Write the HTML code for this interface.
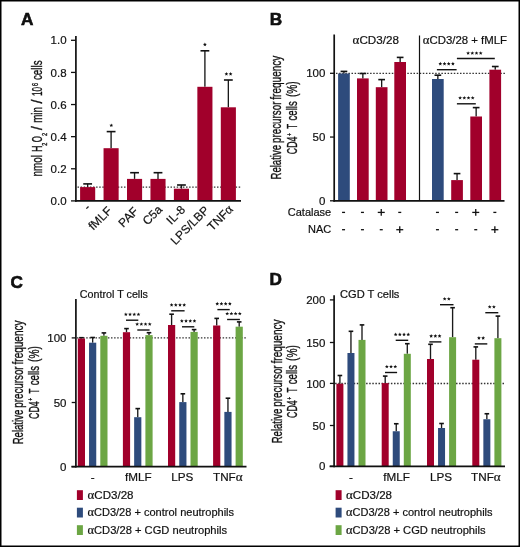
<!DOCTYPE html>
<html><head><meta charset="utf-8"><style>
html,body{margin:0;padding:0;background:#fff;overflow:hidden;}
svg{display:block;will-change:transform;}
text{fill:#111;}
</style></head><body>
<svg width="520" height="547" viewBox="0 0 520 547">
<rect width="520" height="547" fill="#fff"/>
<rect x="0.75" y="0.75" width="518.5" height="545.5" fill="none" stroke="#000" stroke-width="1.5"/>
<text x="20.90" y="24.70" font-size="17.2" text-anchor="start" font-weight="bold" font-family='"Liberation Sans", sans-serif' stroke="#000" stroke-width="0.55">A</text>
<line x1="77.50" y1="187.20" x2="241.00" y2="187.20" stroke="#333" stroke-width="1.3" stroke-dasharray="1.5 1.6"/>
<line x1="87.65" y1="187.10" x2="87.65" y2="183.90" stroke="#1a1a1a" stroke-width="1.35" />
<line x1="83.25" y1="183.90" x2="92.05" y2="183.90" stroke="#111" stroke-width="1.6" />
<rect x="80.10" y="187.10" width="15.10" height="13.80" fill="#a1002b"/>
<line x1="111.10" y1="148.20" x2="111.10" y2="131.60" stroke="#1a1a1a" stroke-width="1.35" />
<line x1="106.70" y1="131.60" x2="115.50" y2="131.60" stroke="#111" stroke-width="1.6" />
<rect x="103.55" y="148.20" width="15.10" height="52.70" fill="#a1002b"/>
<line x1="134.55" y1="178.90" x2="134.55" y2="172.70" stroke="#1a1a1a" stroke-width="1.35" />
<line x1="130.15" y1="172.70" x2="138.95" y2="172.70" stroke="#111" stroke-width="1.6" />
<rect x="127.00" y="178.90" width="15.10" height="22.00" fill="#a1002b"/>
<line x1="158.00" y1="178.90" x2="158.00" y2="172.70" stroke="#1a1a1a" stroke-width="1.35" />
<line x1="153.60" y1="172.70" x2="162.40" y2="172.70" stroke="#111" stroke-width="1.6" />
<rect x="150.45" y="178.90" width="15.10" height="22.00" fill="#a1002b"/>
<line x1="181.45" y1="188.70" x2="181.45" y2="185.00" stroke="#1a1a1a" stroke-width="1.35" />
<line x1="177.05" y1="185.00" x2="185.85" y2="185.00" stroke="#111" stroke-width="1.6" />
<rect x="173.90" y="188.70" width="15.10" height="12.20" fill="#a1002b"/>
<line x1="204.90" y1="86.80" x2="204.90" y2="50.80" stroke="#1a1a1a" stroke-width="1.35" />
<line x1="200.50" y1="50.80" x2="209.30" y2="50.80" stroke="#111" stroke-width="1.6" />
<rect x="197.35" y="86.80" width="15.10" height="114.10" fill="#a1002b"/>
<line x1="228.35" y1="107.30" x2="228.35" y2="80.00" stroke="#1a1a1a" stroke-width="1.35" />
<line x1="223.95" y1="80.00" x2="232.75" y2="80.00" stroke="#111" stroke-width="1.6" />
<rect x="220.80" y="107.30" width="15.10" height="93.60" fill="#a1002b"/>
<line x1="75.90" y1="36.00" x2="75.90" y2="201.75" stroke="#111" stroke-width="1.7" />
<line x1="75.05" y1="200.90" x2="241.00" y2="200.90" stroke="#111" stroke-width="1.7" />
<line x1="71.00" y1="200.90" x2="75.90" y2="200.90" stroke="#111" stroke-width="1.3" />
<text x="66.60" y="205.00" font-size="11.5" text-anchor="end" font-weight="normal" font-family='"Liberation Sans", sans-serif'  stroke="#111" stroke-width="0.2">0.0</text>
<line x1="71.00" y1="168.78" x2="75.90" y2="168.78" stroke="#111" stroke-width="1.3" />
<text x="66.60" y="172.88" font-size="11.5" text-anchor="end" font-weight="normal" font-family='"Liberation Sans", sans-serif'  stroke="#111" stroke-width="0.2">0.2</text>
<line x1="71.00" y1="136.66" x2="75.90" y2="136.66" stroke="#111" stroke-width="1.3" />
<text x="66.60" y="140.76" font-size="11.5" text-anchor="end" font-weight="normal" font-family='"Liberation Sans", sans-serif'  stroke="#111" stroke-width="0.2">0.4</text>
<line x1="71.00" y1="104.54" x2="75.90" y2="104.54" stroke="#111" stroke-width="1.3" />
<text x="66.60" y="108.64" font-size="11.5" text-anchor="end" font-weight="normal" font-family='"Liberation Sans", sans-serif'  stroke="#111" stroke-width="0.2">0.6</text>
<line x1="71.00" y1="72.42" x2="75.90" y2="72.42" stroke="#111" stroke-width="1.3" />
<text x="66.60" y="76.52" font-size="11.5" text-anchor="end" font-weight="normal" font-family='"Liberation Sans", sans-serif'  stroke="#111" stroke-width="0.2">0.8</text>
<line x1="71.00" y1="40.30" x2="75.90" y2="40.30" stroke="#111" stroke-width="1.3" />
<text x="66.60" y="44.40" font-size="11.5" text-anchor="end" font-weight="normal" font-family='"Liberation Sans", sans-serif'  stroke="#111" stroke-width="0.2">1.0</text>
<polygon points="111.30,123.40 111.83,124.67 113.20,124.78 112.16,125.68 112.48,127.02 111.30,126.30 110.12,127.02 110.44,125.68 109.40,124.78 110.77,124.67" fill="#111"/>
<polygon points="204.90,42.60 205.43,43.87 206.80,43.98 205.76,44.88 206.08,46.22 204.90,45.50 203.72,46.22 204.04,44.88 203.00,43.98 204.37,43.87" fill="#111"/>
<polygon points="226.40,72.00 226.93,73.27 228.30,73.38 227.26,74.28 227.58,75.62 226.40,74.90 225.22,75.62 225.54,74.28 224.50,73.38 225.87,73.27" fill="#111"/>
<polygon points="230.60,72.00 231.13,73.27 232.50,73.38 231.46,74.28 231.78,75.62 230.60,74.90 229.42,75.62 229.74,74.28 228.70,73.38 230.07,73.27" fill="#111"/>
<text transform="translate(42.20,176.43) rotate(-90)" stroke="#111" stroke-width="0.35" font-size="14" font-family='"Liberation Sans", sans-serif' textLength="21.40" lengthAdjust="spacingAndGlyphs">nmol</text>
<text transform="translate(42.20,151.67) rotate(-90)" stroke="#111" stroke-width="0.35" font-size="14" font-family='"Liberation Sans", sans-serif' textLength="6.14" lengthAdjust="spacingAndGlyphs">H</text>
<text transform="translate(47.00,145.77) rotate(-90)" stroke="#111" stroke-width="0.35" font-size="8" font-family='"Liberation Sans", sans-serif' textLength="3.04" lengthAdjust="spacingAndGlyphs">2</text>
<text transform="translate(42.20,142.34) rotate(-90)" stroke="#111" stroke-width="0.35" font-size="14" font-family='"Liberation Sans", sans-serif' textLength="6.17" lengthAdjust="spacingAndGlyphs">O</text>
<text transform="translate(47.00,136.08) rotate(-90)" stroke="#111" stroke-width="0.35" font-size="8" font-family='"Liberation Sans", sans-serif' textLength="3.16" lengthAdjust="spacingAndGlyphs">2</text>
<text transform="translate(42.20,129.90) rotate(-90)" stroke="#111" stroke-width="0.35" font-size="14" font-family='"Liberation Sans", sans-serif' textLength="3.69" lengthAdjust="spacingAndGlyphs">/</text>
<text transform="translate(42.20,122.83) rotate(-90)" stroke="#111" stroke-width="0.35" font-size="14" font-family='"Liberation Sans", sans-serif' textLength="15.83" lengthAdjust="spacingAndGlyphs">min</text>
<text transform="translate(42.20,103.50) rotate(-90)" stroke="#111" stroke-width="0.35" font-size="14" font-family='"Liberation Sans", sans-serif' textLength="4.09" lengthAdjust="spacingAndGlyphs">/</text>
<text transform="translate(42.20,95.99) rotate(-90)" stroke="#111" stroke-width="0.35" font-size="14" font-family='"Liberation Sans", sans-serif' textLength="9.17" lengthAdjust="spacingAndGlyphs">10</text>
<text transform="translate(37.60,86.07) rotate(-90)" stroke="#111" stroke-width="0.35" font-size="8.8" font-family='"Liberation Sans", sans-serif' textLength="2.99" lengthAdjust="spacingAndGlyphs">6</text>
<text transform="translate(42.20,80.05) rotate(-90)" stroke="#111" stroke-width="0.35" font-size="14" font-family='"Liberation Sans", sans-serif' textLength="19.61" lengthAdjust="spacingAndGlyphs">cells</text>
<text transform="translate(91.05,208.50) rotate(-45)" font-size="12" text-anchor="end" font-family='"Liberation Sans", sans-serif' stroke="#111" stroke-width="0.2">-</text>
<text transform="translate(112.60,211.50) rotate(-45)" font-size="12" text-anchor="end" font-family='"Liberation Sans", sans-serif' stroke="#111" stroke-width="0.2">fMLF</text>
<text transform="translate(139.05,212.00) rotate(-45)" font-size="12" text-anchor="end" font-family='"Liberation Sans", sans-serif' stroke="#111" stroke-width="0.2">PAF</text>
<text transform="translate(163.00,210.30) rotate(-45)" font-size="12" text-anchor="end" font-family='"Liberation Sans", sans-serif' stroke="#111" stroke-width="0.2">C5a</text>
<text transform="translate(185.95,210.50) rotate(-45)" font-size="12" text-anchor="end" font-family='"Liberation Sans", sans-serif' stroke="#111" stroke-width="0.2">IL-8</text>
<text transform="translate(209.90,211.00) rotate(-45)" font-size="12" text-anchor="end" font-family='"Liberation Sans", sans-serif' stroke="#111" stroke-width="0.2">LPS/LBP</text>
<text transform="translate(233.85,210.00) rotate(-45)" font-size="12" text-anchor="end" font-family='"Liberation Sans", sans-serif' stroke="#111" stroke-width="0.2">TNF<tspan font-family='"Liberation Serif", serif' font-size="1.12em">&#945;</tspan></text>
<text x="269.80" y="24.50" font-size="17.2" text-anchor="start" font-weight="bold" font-family='"Liberation Sans", sans-serif' stroke="#000" stroke-width="0.55">B</text>
<line x1="336.00" y1="73.40" x2="505.50" y2="73.40" stroke="#333" stroke-width="1.3" stroke-dasharray="1.5 1.6"/>
<line x1="343.95" y1="73.50" x2="343.95" y2="71.40" stroke="#1a1a1a" stroke-width="1.35" />
<line x1="340.60" y1="71.40" x2="347.30" y2="71.40" stroke="#111" stroke-width="1.6" />
<rect x="338.10" y="73.50" width="11.70" height="127.30" fill="#2e4b7c"/>
<line x1="362.85" y1="78.40" x2="362.85" y2="73.50" stroke="#1a1a1a" stroke-width="1.35" />
<line x1="359.50" y1="73.50" x2="366.20" y2="73.50" stroke="#111" stroke-width="1.6" />
<rect x="357.00" y="78.40" width="11.70" height="122.40" fill="#a1002b"/>
<line x1="381.65" y1="87.20" x2="381.65" y2="79.60" stroke="#1a1a1a" stroke-width="1.35" />
<line x1="378.30" y1="79.60" x2="385.00" y2="79.60" stroke="#111" stroke-width="1.6" />
<rect x="375.80" y="87.20" width="11.70" height="113.60" fill="#a1002b"/>
<line x1="400.15" y1="62.00" x2="400.15" y2="57.40" stroke="#1a1a1a" stroke-width="1.35" />
<line x1="396.80" y1="57.40" x2="403.50" y2="57.40" stroke="#111" stroke-width="1.6" />
<rect x="394.30" y="62.00" width="11.70" height="138.80" fill="#a1002b"/>
<line x1="437.85" y1="79.00" x2="437.85" y2="75.20" stroke="#1a1a1a" stroke-width="1.35" />
<line x1="434.50" y1="75.20" x2="441.20" y2="75.20" stroke="#111" stroke-width="1.6" />
<rect x="432.00" y="79.00" width="11.70" height="121.80" fill="#2e4b7c"/>
<line x1="457.05" y1="180.10" x2="457.05" y2="173.60" stroke="#1a1a1a" stroke-width="1.35" />
<line x1="453.70" y1="173.60" x2="460.40" y2="173.60" stroke="#111" stroke-width="1.6" />
<rect x="451.20" y="180.10" width="11.70" height="20.70" fill="#a1002b"/>
<line x1="476.15" y1="116.50" x2="476.15" y2="107.60" stroke="#1a1a1a" stroke-width="1.35" />
<line x1="472.80" y1="107.60" x2="479.50" y2="107.60" stroke="#111" stroke-width="1.6" />
<rect x="470.30" y="116.50" width="11.70" height="84.30" fill="#a1002b"/>
<line x1="495.25" y1="69.70" x2="495.25" y2="66.50" stroke="#1a1a1a" stroke-width="1.35" />
<line x1="491.90" y1="66.50" x2="498.60" y2="66.50" stroke="#111" stroke-width="1.6" />
<rect x="489.40" y="69.70" width="11.70" height="131.10" fill="#a1002b"/>
<line x1="334.20" y1="34.50" x2="334.20" y2="201.65" stroke="#111" stroke-width="1.7" />
<line x1="333.35" y1="200.80" x2="504.50" y2="200.80" stroke="#111" stroke-width="1.7" />
<line x1="419.50" y1="35.50" x2="419.50" y2="200.80" stroke="#111" stroke-width="1.2" />
<line x1="330.00" y1="200.80" x2="334.20" y2="200.80" stroke="#111" stroke-width="1.3" />
<text x="325.40" y="204.90" font-size="11.5" text-anchor="end" font-weight="normal" font-family='"Liberation Sans", sans-serif'  stroke="#111" stroke-width="0.2">0</text>
<line x1="330.00" y1="137.05" x2="334.20" y2="137.05" stroke="#111" stroke-width="1.3" />
<text x="325.40" y="141.15" font-size="11.5" text-anchor="end" font-weight="normal" font-family='"Liberation Sans", sans-serif'  stroke="#111" stroke-width="0.2">50</text>
<line x1="330.00" y1="73.30" x2="334.20" y2="73.30" stroke="#111" stroke-width="1.3" />
<text x="325.40" y="77.40" font-size="11.5" text-anchor="end" font-weight="normal" font-family='"Liberation Sans", sans-serif'  stroke="#111" stroke-width="0.2">100</text>
<text x="375.80" y="44.40" font-size="11.2" text-anchor="middle" font-weight="normal" font-family='"Liberation Sans", sans-serif'  textLength="46.4" lengthAdjust="spacingAndGlyphs" stroke="#111" stroke-width="0.2"><tspan font-family='"Liberation Serif", serif' font-size="1.12em">&#945;</tspan>CD3/28</text>
<text x="464.90" y="44.40" font-size="11.2" text-anchor="middle" font-weight="normal" font-family='"Liberation Sans", sans-serif'  textLength="84.3" lengthAdjust="spacingAndGlyphs" stroke="#111" stroke-width="0.2"><tspan font-family='"Liberation Serif", serif' font-size="1.12em">&#945;</tspan>CD3/28 + fMLF</text>
<line x1="436.90" y1="69.70" x2="456.60" y2="69.70" stroke="#111" stroke-width="1.4" />
<polygon points="440.30,61.80 440.83,63.07 442.20,63.18 441.16,64.08 441.48,65.42 440.30,64.70 439.12,65.42 439.44,64.08 438.40,63.18 439.77,63.07" fill="#111"/>
<polygon points="444.50,61.80 445.03,63.07 446.40,63.18 445.36,64.08 445.68,65.42 444.50,64.70 443.32,65.42 443.64,64.08 442.60,63.18 443.97,63.07" fill="#111"/>
<polygon points="448.70,61.80 449.23,63.07 450.60,63.18 449.56,64.08 449.88,65.42 448.70,64.70 447.52,65.42 447.84,64.08 446.80,63.18 448.17,63.07" fill="#111"/>
<polygon points="452.90,61.80 453.43,63.07 454.80,63.18 453.76,64.08 454.08,65.42 452.90,64.70 451.72,65.42 452.04,64.08 451.00,63.18 452.37,63.07" fill="#111"/>
<line x1="456.90" y1="58.50" x2="494.80" y2="58.50" stroke="#111" stroke-width="1.4" />
<polygon points="468.10,51.20 468.63,52.47 470.00,52.58 468.96,53.48 469.28,54.82 468.10,54.10 466.92,54.82 467.24,53.48 466.20,52.58 467.57,52.47" fill="#111"/>
<polygon points="472.30,51.20 472.83,52.47 474.20,52.58 473.16,53.48 473.48,54.82 472.30,54.10 471.12,54.82 471.44,53.48 470.40,52.58 471.77,52.47" fill="#111"/>
<polygon points="476.50,51.20 477.03,52.47 478.40,52.58 477.36,53.48 477.68,54.82 476.50,54.10 475.32,54.82 475.64,53.48 474.60,52.58 475.97,52.47" fill="#111"/>
<polygon points="480.70,51.20 481.23,52.47 482.60,52.58 481.56,53.48 481.88,54.82 480.70,54.10 479.52,54.82 479.84,53.48 478.80,52.58 480.17,52.47" fill="#111"/>
<line x1="456.90" y1="103.80" x2="475.80" y2="103.80" stroke="#111" stroke-width="1.4" />
<polygon points="460.10,95.90 460.63,97.17 462.00,97.28 460.96,98.18 461.28,99.52 460.10,98.80 458.92,99.52 459.24,98.18 458.20,97.28 459.57,97.17" fill="#111"/>
<polygon points="464.30,95.90 464.83,97.17 466.20,97.28 465.16,98.18 465.48,99.52 464.30,98.80 463.12,99.52 463.44,98.18 462.40,97.28 463.77,97.17" fill="#111"/>
<polygon points="468.50,95.90 469.03,97.17 470.40,97.28 469.36,98.18 469.68,99.52 468.50,98.80 467.32,99.52 467.64,98.18 466.60,97.28 467.97,97.17" fill="#111"/>
<polygon points="472.70,95.90 473.23,97.17 474.60,97.28 473.56,98.18 473.88,99.52 472.70,98.80 471.52,99.52 471.84,98.18 470.80,97.28 472.17,97.17" fill="#111"/>
<text x="331.20" y="215.80" font-size="11" text-anchor="end" font-weight="normal" font-family='"Liberation Sans", sans-serif'  stroke="#111" stroke-width="0.2">Catalase</text>
<text x="331.20" y="233.10" font-size="11" text-anchor="end" font-weight="normal" font-family='"Liberation Sans", sans-serif'  stroke="#111" stroke-width="0.2">NAC</text>
<line x1="342.05" y1="212.40" x2="345.05" y2="212.40" stroke="#111" stroke-width="1.3" />
<line x1="342.05" y1="229.70" x2="345.05" y2="229.70" stroke="#111" stroke-width="1.3" />
<line x1="360.95" y1="212.40" x2="363.95" y2="212.40" stroke="#111" stroke-width="1.3" />
<line x1="360.95" y1="229.70" x2="363.95" y2="229.70" stroke="#111" stroke-width="1.3" />
<line x1="377.75" y1="212.40" x2="384.75" y2="212.40" stroke="#111" stroke-width="1.3" />
<line x1="381.25" y1="209.00" x2="381.25" y2="215.80" stroke="#111" stroke-width="1.3" />
<line x1="379.75" y1="229.70" x2="382.75" y2="229.70" stroke="#111" stroke-width="1.3" />
<line x1="398.25" y1="212.40" x2="401.25" y2="212.40" stroke="#111" stroke-width="1.3" />
<line x1="396.25" y1="229.70" x2="403.25" y2="229.70" stroke="#111" stroke-width="1.3" />
<line x1="399.75" y1="226.30" x2="399.75" y2="233.10" stroke="#111" stroke-width="1.3" />
<line x1="435.95" y1="212.40" x2="438.95" y2="212.40" stroke="#111" stroke-width="1.3" />
<line x1="435.95" y1="229.70" x2="438.95" y2="229.70" stroke="#111" stroke-width="1.3" />
<line x1="455.15" y1="212.40" x2="458.15" y2="212.40" stroke="#111" stroke-width="1.3" />
<line x1="455.15" y1="229.70" x2="458.15" y2="229.70" stroke="#111" stroke-width="1.3" />
<line x1="472.25" y1="212.40" x2="479.25" y2="212.40" stroke="#111" stroke-width="1.3" />
<line x1="475.75" y1="209.00" x2="475.75" y2="215.80" stroke="#111" stroke-width="1.3" />
<line x1="474.25" y1="229.70" x2="477.25" y2="229.70" stroke="#111" stroke-width="1.3" />
<line x1="493.35" y1="212.40" x2="496.35" y2="212.40" stroke="#111" stroke-width="1.3" />
<line x1="491.35" y1="229.70" x2="498.35" y2="229.70" stroke="#111" stroke-width="1.3" />
<line x1="494.85" y1="226.30" x2="494.85" y2="233.10" stroke="#111" stroke-width="1.3" />
<text transform="translate(281.00,179.55) rotate(-90)" stroke="#111" stroke-width="0.35" font-size="14.5" font-family='"Liberation Sans", sans-serif' textLength="34.65" lengthAdjust="spacingAndGlyphs">Relative</text>
<text transform="translate(281.00,142.93) rotate(-90)" stroke="#111" stroke-width="0.35" font-size="14.5" font-family='"Liberation Sans", sans-serif' textLength="41.32" lengthAdjust="spacingAndGlyphs">precursor</text>
<text transform="translate(281.00,99.67) rotate(-90)" stroke="#111" stroke-width="0.35" font-size="14.5" font-family='"Liberation Sans", sans-serif' textLength="43.96" lengthAdjust="spacingAndGlyphs">frequency</text>
<text transform="translate(296.80,154.14) rotate(-90)" stroke="#111" stroke-width="0.35" font-size="14.5" font-family='"Liberation Sans", sans-serif' textLength="17.60" lengthAdjust="spacingAndGlyphs">CD4</text>
<text transform="translate(291.60,135.78) rotate(-90)" stroke="#111" stroke-width="0.35" font-size="7" font-family='"Liberation Sans", sans-serif' textLength="2.49" lengthAdjust="spacingAndGlyphs">+</text>
<text transform="translate(296.80,128.77) rotate(-90)" stroke="#111" stroke-width="0.35" font-size="14.5" font-family='"Liberation Sans", sans-serif' textLength="4.81" lengthAdjust="spacingAndGlyphs">T</text>
<text transform="translate(296.80,120.44) rotate(-90)" stroke="#111" stroke-width="0.35" font-size="14.5" font-family='"Liberation Sans", sans-serif' textLength="19.19" lengthAdjust="spacingAndGlyphs">cells</text>
<text transform="translate(296.80,97.08) rotate(-90)" stroke="#111" stroke-width="0.35" font-size="14.5" font-family='"Liberation Sans", sans-serif' textLength="15.82" lengthAdjust="spacingAndGlyphs">(%)</text>
<line x1="76.90" y1="337.80" x2="246.50" y2="337.80" stroke="#333" stroke-width="1.3" stroke-dasharray="1.5 1.6"/>
<line x1="81.40" y1="338.50" x2="81.40" y2="337.70" stroke="#1a1a1a" stroke-width="1.35" />
<line x1="79.10" y1="337.70" x2="83.70" y2="337.70" stroke="#111" stroke-width="1.6" />
<rect x="77.80" y="338.50" width="7.20" height="128.20" fill="#a1002b"/>
<line x1="92.65" y1="342.70" x2="92.65" y2="337.50" stroke="#1a1a1a" stroke-width="1.35" />
<line x1="90.35" y1="337.50" x2="94.95" y2="337.50" stroke="#111" stroke-width="1.6" />
<rect x="89.05" y="342.70" width="7.20" height="124.00" fill="#2e4b7c"/>
<line x1="103.90" y1="335.80" x2="103.90" y2="332.90" stroke="#1a1a1a" stroke-width="1.35" />
<line x1="101.60" y1="332.90" x2="106.20" y2="332.90" stroke="#111" stroke-width="1.6" />
<rect x="100.30" y="335.80" width="7.20" height="130.90" fill="#6ca644"/>
<line x1="126.50" y1="332.20" x2="126.50" y2="328.60" stroke="#1a1a1a" stroke-width="1.35" />
<line x1="124.20" y1="328.60" x2="128.80" y2="328.60" stroke="#111" stroke-width="1.6" />
<rect x="122.90" y="332.20" width="7.20" height="134.50" fill="#a1002b"/>
<line x1="137.75" y1="417.20" x2="137.75" y2="408.60" stroke="#1a1a1a" stroke-width="1.35" />
<line x1="135.45" y1="408.60" x2="140.05" y2="408.60" stroke="#111" stroke-width="1.6" />
<rect x="134.15" y="417.20" width="7.20" height="49.50" fill="#2e4b7c"/>
<line x1="149.00" y1="335.10" x2="149.00" y2="332.70" stroke="#1a1a1a" stroke-width="1.35" />
<line x1="146.70" y1="332.70" x2="151.30" y2="332.70" stroke="#111" stroke-width="1.6" />
<rect x="145.40" y="335.10" width="7.20" height="131.60" fill="#6ca644"/>
<line x1="171.60" y1="325.00" x2="171.60" y2="314.20" stroke="#1a1a1a" stroke-width="1.35" />
<line x1="169.30" y1="314.20" x2="173.90" y2="314.20" stroke="#111" stroke-width="1.6" />
<rect x="168.00" y="325.00" width="7.20" height="141.70" fill="#a1002b"/>
<line x1="182.85" y1="402.10" x2="182.85" y2="393.80" stroke="#1a1a1a" stroke-width="1.35" />
<line x1="180.55" y1="393.80" x2="185.15" y2="393.80" stroke="#111" stroke-width="1.6" />
<rect x="179.25" y="402.10" width="7.20" height="64.60" fill="#2e4b7c"/>
<line x1="194.10" y1="331.90" x2="194.10" y2="329.60" stroke="#1a1a1a" stroke-width="1.35" />
<line x1="191.80" y1="329.60" x2="196.40" y2="329.60" stroke="#111" stroke-width="1.6" />
<rect x="190.50" y="331.90" width="7.20" height="134.80" fill="#6ca644"/>
<line x1="216.70" y1="325.50" x2="216.70" y2="318.40" stroke="#1a1a1a" stroke-width="1.35" />
<line x1="214.40" y1="318.40" x2="219.00" y2="318.40" stroke="#111" stroke-width="1.6" />
<rect x="213.10" y="325.50" width="7.20" height="141.20" fill="#a1002b"/>
<line x1="227.95" y1="411.90" x2="227.95" y2="398.20" stroke="#1a1a1a" stroke-width="1.35" />
<line x1="225.65" y1="398.20" x2="230.25" y2="398.20" stroke="#111" stroke-width="1.6" />
<rect x="224.35" y="411.90" width="7.20" height="54.80" fill="#2e4b7c"/>
<line x1="239.20" y1="326.70" x2="239.20" y2="321.90" stroke="#1a1a1a" stroke-width="1.35" />
<line x1="236.90" y1="321.90" x2="241.50" y2="321.90" stroke="#111" stroke-width="1.6" />
<rect x="235.60" y="326.70" width="7.20" height="140.00" fill="#6ca644"/>
<line x1="75.90" y1="299.00" x2="75.90" y2="467.55" stroke="#111" stroke-width="1.7" />
<line x1="71.40" y1="466.70" x2="246.50" y2="466.70" stroke="#111" stroke-width="1.7" />
<line x1="71.70" y1="466.70" x2="75.90" y2="466.70" stroke="#111" stroke-width="1.3" />
<text x="66.50" y="470.80" font-size="11.5" text-anchor="end" font-weight="normal" font-family='"Liberation Sans", sans-serif'  stroke="#111" stroke-width="0.2">0</text>
<line x1="71.70" y1="402.50" x2="75.90" y2="402.50" stroke="#111" stroke-width="1.3" />
<text x="66.50" y="406.60" font-size="11.5" text-anchor="end" font-weight="normal" font-family='"Liberation Sans", sans-serif'  stroke="#111" stroke-width="0.2">50</text>
<line x1="71.70" y1="337.90" x2="75.90" y2="337.90" stroke="#111" stroke-width="1.3" />
<text x="66.50" y="342.00" font-size="11.5" text-anchor="end" font-weight="normal" font-family='"Liberation Sans", sans-serif'  stroke="#111" stroke-width="0.2">100</text>
<text x="79.80" y="297.70" font-size="10.6" text-anchor="start" font-weight="normal" font-family='"Liberation Sans", sans-serif'  textLength="68.2" lengthAdjust="spacingAndGlyphs" stroke="#111" stroke-width="0.2">Control T cells</text>
<text x="10.40" y="287.60" font-size="17.2" text-anchor="start" font-weight="bold" font-family='"Liberation Sans", sans-serif' stroke="#000" stroke-width="0.55">C</text>
<line x1="126.00" y1="320.20" x2="138.30" y2="320.20" stroke="#111" stroke-width="1.4" />
<polygon points="125.85,312.40 126.38,313.67 127.75,313.78 126.71,314.68 127.03,316.02 125.85,315.30 124.67,316.02 124.99,314.68 123.95,313.78 125.32,313.67" fill="#111"/>
<polygon points="130.05,312.40 130.58,313.67 131.95,313.78 130.91,314.68 131.23,316.02 130.05,315.30 128.87,316.02 129.19,314.68 128.15,313.78 129.52,313.67" fill="#111"/>
<polygon points="134.25,312.40 134.78,313.67 136.15,313.78 135.11,314.68 135.43,316.02 134.25,315.30 133.07,316.02 133.39,314.68 132.35,313.78 133.72,313.67" fill="#111"/>
<polygon points="138.45,312.40 138.98,313.67 140.35,313.78 139.31,314.68 139.63,316.02 138.45,315.30 137.27,316.02 137.59,314.68 136.55,313.78 137.92,313.67" fill="#111"/>
<line x1="137.30" y1="330.00" x2="149.60" y2="330.00" stroke="#111" stroke-width="1.4" />
<polygon points="137.15,322.20 137.68,323.47 139.05,323.58 138.01,324.48 138.33,325.82 137.15,325.10 135.97,325.82 136.29,324.48 135.25,323.58 136.62,323.47" fill="#111"/>
<polygon points="141.35,322.20 141.88,323.47 143.25,323.58 142.21,324.48 142.53,325.82 141.35,325.10 140.17,325.82 140.49,324.48 139.45,323.58 140.82,323.47" fill="#111"/>
<polygon points="145.55,322.20 146.08,323.47 147.45,323.58 146.41,324.48 146.73,325.82 145.55,325.10 144.37,325.82 144.69,324.48 143.65,323.58 145.02,323.47" fill="#111"/>
<polygon points="149.75,322.20 150.28,323.47 151.65,323.58 150.61,324.48 150.93,325.82 149.75,325.10 148.57,325.82 148.89,324.48 147.85,323.58 149.22,323.47" fill="#111"/>
<line x1="171.20" y1="310.80" x2="184.60" y2="310.80" stroke="#111" stroke-width="1.4" />
<polygon points="171.60,303.00 172.13,304.27 173.50,304.38 172.46,305.28 172.78,306.62 171.60,305.90 170.42,306.62 170.74,305.28 169.70,304.38 171.07,304.27" fill="#111"/>
<polygon points="175.80,303.00 176.33,304.27 177.70,304.38 176.66,305.28 176.98,306.62 175.80,305.90 174.62,306.62 174.94,305.28 173.90,304.38 175.27,304.27" fill="#111"/>
<polygon points="180.00,303.00 180.53,304.27 181.90,304.38 180.86,305.28 181.18,306.62 180.00,305.90 178.82,306.62 179.14,305.28 178.10,304.38 179.47,304.27" fill="#111"/>
<polygon points="184.20,303.00 184.73,304.27 186.10,304.38 185.06,305.28 185.38,306.62 184.20,305.90 183.02,306.62 183.34,305.28 182.30,304.38 183.67,304.27" fill="#111"/>
<line x1="182.00" y1="326.80" x2="194.30" y2="326.80" stroke="#111" stroke-width="1.4" />
<polygon points="181.85,319.00 182.38,320.27 183.75,320.38 182.71,321.28 183.03,322.62 181.85,321.90 180.67,322.62 180.99,321.28 179.95,320.38 181.32,320.27" fill="#111"/>
<polygon points="186.05,319.00 186.58,320.27 187.95,320.38 186.91,321.28 187.23,322.62 186.05,321.90 184.87,322.62 185.19,321.28 184.15,320.38 185.52,320.27" fill="#111"/>
<polygon points="190.25,319.00 190.78,320.27 192.15,320.38 191.11,321.28 191.43,322.62 190.25,321.90 189.07,322.62 189.39,321.28 188.35,320.38 189.72,320.27" fill="#111"/>
<polygon points="194.45,319.00 194.98,320.27 196.35,320.38 195.31,321.28 195.63,322.62 194.45,321.90 193.27,322.62 193.59,321.28 192.55,320.38 193.92,320.27" fill="#111"/>
<line x1="217.40" y1="309.60" x2="229.70" y2="309.60" stroke="#111" stroke-width="1.4" />
<polygon points="217.25,301.80 217.78,303.07 219.15,303.18 218.11,304.08 218.43,305.42 217.25,304.70 216.07,305.42 216.39,304.08 215.35,303.18 216.72,303.07" fill="#111"/>
<polygon points="221.45,301.80 221.98,303.07 223.35,303.18 222.31,304.08 222.63,305.42 221.45,304.70 220.27,305.42 220.59,304.08 219.55,303.18 220.92,303.07" fill="#111"/>
<polygon points="225.65,301.80 226.18,303.07 227.55,303.18 226.51,304.08 226.83,305.42 225.65,304.70 224.47,305.42 224.79,304.08 223.75,303.18 225.12,303.07" fill="#111"/>
<polygon points="229.85,301.80 230.38,303.07 231.75,303.18 230.71,304.08 231.03,305.42 229.85,304.70 228.67,305.42 228.99,304.08 227.95,303.18 229.32,303.07" fill="#111"/>
<line x1="227.10" y1="319.50" x2="239.90" y2="319.50" stroke="#111" stroke-width="1.4" />
<polygon points="227.20,311.70 227.73,312.97 229.10,313.08 228.06,313.98 228.38,315.32 227.20,314.60 226.02,315.32 226.34,313.98 225.30,313.08 226.67,312.97" fill="#111"/>
<polygon points="231.40,311.70 231.93,312.97 233.30,313.08 232.26,313.98 232.58,315.32 231.40,314.60 230.22,315.32 230.54,313.98 229.50,313.08 230.87,312.97" fill="#111"/>
<polygon points="235.60,311.70 236.13,312.97 237.50,313.08 236.46,313.98 236.78,315.32 235.60,314.60 234.42,315.32 234.74,313.98 233.70,313.08 235.07,312.97" fill="#111"/>
<polygon points="239.80,311.70 240.33,312.97 241.70,313.08 240.66,313.98 240.98,315.32 239.80,314.60 238.62,315.32 238.94,313.98 237.90,313.08 239.27,312.97" fill="#111"/>
<text x="92.70" y="481.20" font-size="11.7" text-anchor="middle" font-weight="normal" font-family='"Liberation Sans", sans-serif'  stroke="#111" stroke-width="0.2">-</text>
<text x="138.30" y="481.20" font-size="11.7" text-anchor="middle" font-weight="normal" font-family='"Liberation Sans", sans-serif'  stroke="#111" stroke-width="0.2">fMLF</text>
<text x="182.20" y="481.20" font-size="11.7" text-anchor="middle" font-weight="normal" font-family='"Liberation Sans", sans-serif'  stroke="#111" stroke-width="0.2">LPS</text>
<text x="227.80" y="481.20" font-size="11.7" text-anchor="middle" font-weight="normal" font-family='"Liberation Sans", sans-serif'  stroke="#111" stroke-width="0.2">TNF<tspan font-family='"Liberation Serif", serif' font-size="1.12em">&#945;</tspan></text>
<rect x="76.90" y="490.20" width="6.00" height="9.80" fill="#a1002b"/>
<text x="87.50" y="498.80" font-size="11.2" text-anchor="start" font-weight="normal" font-family='"Liberation Sans", sans-serif'  textLength="46.0" lengthAdjust="spacingAndGlyphs" stroke="#111" stroke-width="0.2"><tspan font-family='"Liberation Serif", serif' font-size="1.12em">&#945;</tspan>CD3/28</text>
<rect x="76.90" y="507.70" width="6.00" height="9.80" fill="#2e4b7c"/>
<text x="87.50" y="516.30" font-size="11.2" text-anchor="start" font-weight="normal" font-family='"Liberation Sans", sans-serif'  textLength="146.6" lengthAdjust="spacingAndGlyphs" stroke="#111" stroke-width="0.2"><tspan font-family='"Liberation Serif", serif' font-size="1.12em">&#945;</tspan>CD3/28 + control neutrophils</text>
<rect x="76.90" y="525.20" width="6.00" height="9.80" fill="#6ca644"/>
<text x="87.50" y="533.80" font-size="11.2" text-anchor="start" font-weight="normal" font-family='"Liberation Sans", sans-serif'  textLength="139.6" lengthAdjust="spacingAndGlyphs" stroke="#111" stroke-width="0.2"><tspan font-family='"Liberation Serif", serif' font-size="1.12em">&#945;</tspan>CD3/28 + CGD neutrophils</text>
<text transform="translate(22.80,444.35) rotate(-90)" stroke="#111" stroke-width="0.35" font-size="14.5" font-family='"Liberation Sans", sans-serif' textLength="34.65" lengthAdjust="spacingAndGlyphs">Relative</text>
<text transform="translate(22.80,407.73) rotate(-90)" stroke="#111" stroke-width="0.35" font-size="14.5" font-family='"Liberation Sans", sans-serif' textLength="41.32" lengthAdjust="spacingAndGlyphs">precursor</text>
<text transform="translate(22.80,364.47) rotate(-90)" stroke="#111" stroke-width="0.35" font-size="14.5" font-family='"Liberation Sans", sans-serif' textLength="43.96" lengthAdjust="spacingAndGlyphs">frequency</text>
<text transform="translate(38.60,418.94) rotate(-90)" stroke="#111" stroke-width="0.35" font-size="14.5" font-family='"Liberation Sans", sans-serif' textLength="17.60" lengthAdjust="spacingAndGlyphs">CD4</text>
<text transform="translate(33.40,400.58) rotate(-90)" stroke="#111" stroke-width="0.35" font-size="7" font-family='"Liberation Sans", sans-serif' textLength="2.49" lengthAdjust="spacingAndGlyphs">+</text>
<text transform="translate(38.60,393.57) rotate(-90)" stroke="#111" stroke-width="0.35" font-size="14.5" font-family='"Liberation Sans", sans-serif' textLength="4.81" lengthAdjust="spacingAndGlyphs">T</text>
<text transform="translate(38.60,385.24) rotate(-90)" stroke="#111" stroke-width="0.35" font-size="14.5" font-family='"Liberation Sans", sans-serif' textLength="19.19" lengthAdjust="spacingAndGlyphs">cells</text>
<text transform="translate(38.60,361.88) rotate(-90)" stroke="#111" stroke-width="0.35" font-size="14.5" font-family='"Liberation Sans", sans-serif' textLength="15.82" lengthAdjust="spacingAndGlyphs">(%)</text>
<line x1="335.10" y1="383.50" x2="505.00" y2="383.50" stroke="#333" stroke-width="1.3" stroke-dasharray="1.5 1.6"/>
<line x1="339.90" y1="383.75" x2="339.90" y2="375.50" stroke="#1a1a1a" stroke-width="1.35" />
<line x1="337.60" y1="375.50" x2="342.20" y2="375.50" stroke="#111" stroke-width="1.6" />
<rect x="336.40" y="383.75" width="7.00" height="82.55" fill="#a1002b"/>
<line x1="350.95" y1="353.00" x2="350.95" y2="331.30" stroke="#1a1a1a" stroke-width="1.35" />
<line x1="348.65" y1="331.30" x2="353.25" y2="331.30" stroke="#111" stroke-width="1.6" />
<rect x="347.45" y="353.00" width="7.00" height="113.30" fill="#2e4b7c"/>
<line x1="362.00" y1="339.90" x2="362.00" y2="324.90" stroke="#1a1a1a" stroke-width="1.35" />
<line x1="359.70" y1="324.90" x2="364.30" y2="324.90" stroke="#111" stroke-width="1.6" />
<rect x="358.50" y="339.90" width="7.00" height="126.40" fill="#6ca644"/>
<line x1="385.20" y1="383.10" x2="385.20" y2="376.10" stroke="#1a1a1a" stroke-width="1.35" />
<line x1="382.90" y1="376.10" x2="387.50" y2="376.10" stroke="#111" stroke-width="1.6" />
<rect x="381.70" y="383.10" width="7.00" height="83.20" fill="#a1002b"/>
<line x1="396.25" y1="431.25" x2="396.25" y2="423.75" stroke="#1a1a1a" stroke-width="1.35" />
<line x1="393.95" y1="423.75" x2="398.55" y2="423.75" stroke="#111" stroke-width="1.6" />
<rect x="392.75" y="431.25" width="7.00" height="35.05" fill="#2e4b7c"/>
<line x1="407.30" y1="353.80" x2="407.30" y2="343.70" stroke="#1a1a1a" stroke-width="1.35" />
<line x1="405.00" y1="343.70" x2="409.60" y2="343.70" stroke="#111" stroke-width="1.6" />
<rect x="403.80" y="353.80" width="7.00" height="112.50" fill="#6ca644"/>
<line x1="430.50" y1="359.00" x2="430.50" y2="344.30" stroke="#1a1a1a" stroke-width="1.35" />
<line x1="428.20" y1="344.30" x2="432.80" y2="344.30" stroke="#111" stroke-width="1.6" />
<rect x="427.00" y="359.00" width="7.00" height="107.30" fill="#a1002b"/>
<line x1="441.55" y1="428.00" x2="441.55" y2="423.50" stroke="#1a1a1a" stroke-width="1.35" />
<line x1="439.25" y1="423.50" x2="443.85" y2="423.50" stroke="#111" stroke-width="1.6" />
<rect x="438.05" y="428.00" width="7.00" height="38.30" fill="#2e4b7c"/>
<line x1="452.60" y1="337.20" x2="452.60" y2="307.70" stroke="#1a1a1a" stroke-width="1.35" />
<line x1="450.30" y1="307.70" x2="454.90" y2="307.70" stroke="#111" stroke-width="1.6" />
<rect x="449.10" y="337.20" width="7.00" height="129.10" fill="#6ca644"/>
<line x1="475.80" y1="359.70" x2="475.80" y2="346.90" stroke="#1a1a1a" stroke-width="1.35" />
<line x1="473.50" y1="346.90" x2="478.10" y2="346.90" stroke="#111" stroke-width="1.6" />
<rect x="472.30" y="359.70" width="7.00" height="106.60" fill="#a1002b"/>
<line x1="486.85" y1="419.25" x2="486.85" y2="413.75" stroke="#1a1a1a" stroke-width="1.35" />
<line x1="484.55" y1="413.75" x2="489.15" y2="413.75" stroke="#111" stroke-width="1.6" />
<rect x="483.35" y="419.25" width="7.00" height="47.05" fill="#2e4b7c"/>
<line x1="497.90" y1="338.20" x2="497.90" y2="316.10" stroke="#1a1a1a" stroke-width="1.35" />
<line x1="495.60" y1="316.10" x2="500.20" y2="316.10" stroke="#111" stroke-width="1.6" />
<rect x="494.40" y="338.20" width="7.00" height="128.10" fill="#6ca644"/>
<line x1="334.10" y1="295.30" x2="334.10" y2="467.15" stroke="#111" stroke-width="1.7" />
<line x1="329.60" y1="466.30" x2="505.00" y2="466.30" stroke="#111" stroke-width="1.7" />
<line x1="329.90" y1="466.30" x2="334.10" y2="466.30" stroke="#111" stroke-width="1.3" />
<text x="325.40" y="470.40" font-size="11.5" text-anchor="end" font-weight="normal" font-family='"Liberation Sans", sans-serif'  stroke="#111" stroke-width="0.2">0</text>
<line x1="329.90" y1="425.50" x2="334.10" y2="425.50" stroke="#111" stroke-width="1.3" />
<text x="325.40" y="429.60" font-size="11.5" text-anchor="end" font-weight="normal" font-family='"Liberation Sans", sans-serif'  stroke="#111" stroke-width="0.2">50</text>
<line x1="329.90" y1="383.40" x2="334.10" y2="383.40" stroke="#111" stroke-width="1.3" />
<text x="325.40" y="387.50" font-size="11.5" text-anchor="end" font-weight="normal" font-family='"Liberation Sans", sans-serif'  stroke="#111" stroke-width="0.2">100</text>
<line x1="329.90" y1="342.50" x2="334.10" y2="342.50" stroke="#111" stroke-width="1.3" />
<text x="325.40" y="346.60" font-size="11.5" text-anchor="end" font-weight="normal" font-family='"Liberation Sans", sans-serif'  stroke="#111" stroke-width="0.2">150</text>
<line x1="329.90" y1="299.90" x2="334.10" y2="299.90" stroke="#111" stroke-width="1.3" />
<text x="325.40" y="304.00" font-size="11.5" text-anchor="end" font-weight="normal" font-family='"Liberation Sans", sans-serif'  stroke="#111" stroke-width="0.2">200</text>
<text x="340.00" y="297.70" font-size="10.6" text-anchor="start" font-weight="normal" font-family='"Liberation Sans", sans-serif'  textLength="59.4" lengthAdjust="spacingAndGlyphs" stroke="#111" stroke-width="0.2">CGD T cells</text>
<text x="269.60" y="284.60" font-size="17.2" text-anchor="start" font-weight="bold" font-family='"Liberation Sans", sans-serif' stroke="#000" stroke-width="0.55">D</text>
<line x1="385.00" y1="372.50" x2="397.10" y2="372.50" stroke="#111" stroke-width="1.4" />
<polygon points="386.85,364.70 387.38,365.97 388.75,366.08 387.71,366.98 388.03,368.32 386.85,367.60 385.67,368.32 385.99,366.98 384.95,366.08 386.32,365.97" fill="#111"/>
<polygon points="391.05,364.70 391.58,365.97 392.95,366.08 391.91,366.98 392.23,368.32 391.05,367.60 389.87,368.32 390.19,366.98 389.15,366.08 390.52,365.97" fill="#111"/>
<polygon points="395.25,364.70 395.78,365.97 397.15,366.08 396.11,366.98 396.43,368.32 395.25,367.60 394.07,368.32 394.39,366.98 393.35,366.08 394.72,365.97" fill="#111"/>
<line x1="395.70" y1="340.30" x2="408.20" y2="340.30" stroke="#111" stroke-width="1.4" />
<polygon points="395.65,332.50 396.18,333.77 397.55,333.88 396.51,334.78 396.83,336.12 395.65,335.40 394.47,336.12 394.79,334.78 393.75,333.88 395.12,333.77" fill="#111"/>
<polygon points="399.85,332.50 400.38,333.77 401.75,333.88 400.71,334.78 401.03,336.12 399.85,335.40 398.67,336.12 398.99,334.78 397.95,333.88 399.32,333.77" fill="#111"/>
<polygon points="404.05,332.50 404.58,333.77 405.95,333.88 404.91,334.78 405.23,336.12 404.05,335.40 402.87,336.12 403.19,334.78 402.15,333.88 403.52,333.77" fill="#111"/>
<polygon points="408.25,332.50 408.78,333.77 410.15,333.88 409.11,334.78 409.43,336.12 408.25,335.40 407.07,336.12 407.39,334.78 406.35,333.88 407.72,333.77" fill="#111"/>
<line x1="429.30" y1="341.90" x2="441.40" y2="341.90" stroke="#111" stroke-width="1.4" />
<polygon points="431.15,334.10 431.68,335.37 433.05,335.48 432.01,336.38 432.33,337.72 431.15,337.00 429.97,337.72 430.29,336.38 429.25,335.48 430.62,335.37" fill="#111"/>
<polygon points="435.35,334.10 435.88,335.37 437.25,335.48 436.21,336.38 436.53,337.72 435.35,337.00 434.17,337.72 434.49,336.38 433.45,335.48 434.82,335.37" fill="#111"/>
<polygon points="439.55,334.10 440.08,335.37 441.45,335.48 440.41,336.38 440.73,337.72 439.55,337.00 438.37,337.72 438.69,336.38 437.65,335.48 439.02,335.37" fill="#111"/>
<line x1="440.00" y1="304.70" x2="453.50" y2="304.70" stroke="#111" stroke-width="1.4" />
<polygon points="444.65,296.90 445.18,298.17 446.55,298.28 445.51,299.18 445.83,300.52 444.65,299.80 443.47,300.52 443.79,299.18 442.75,298.28 444.12,298.17" fill="#111"/>
<polygon points="448.85,296.90 449.38,298.17 450.75,298.28 449.71,299.18 450.03,300.52 448.85,299.80 447.67,300.52 447.99,299.18 446.95,298.28 448.32,298.17" fill="#111"/>
<line x1="474.80" y1="343.90" x2="487.30" y2="343.90" stroke="#111" stroke-width="1.4" />
<polygon points="478.95,336.10 479.48,337.37 480.85,337.48 479.81,338.38 480.13,339.72 478.95,339.00 477.77,339.72 478.09,338.38 477.05,337.48 478.42,337.37" fill="#111"/>
<polygon points="483.15,336.10 483.68,337.37 485.05,337.48 484.01,338.38 484.33,339.72 483.15,339.00 481.97,339.72 482.29,338.38 481.25,337.48 482.62,337.37" fill="#111"/>
<line x1="485.30" y1="312.70" x2="498.30" y2="312.70" stroke="#111" stroke-width="1.4" />
<polygon points="489.70,304.90 490.23,306.17 491.60,306.28 490.56,307.18 490.88,308.52 489.70,307.80 488.52,308.52 488.84,307.18 487.80,306.28 489.17,306.17" fill="#111"/>
<polygon points="493.90,304.90 494.43,306.17 495.80,306.28 494.76,307.18 495.08,308.52 493.90,307.80 492.72,308.52 493.04,307.18 492.00,306.28 493.37,306.17" fill="#111"/>
<text x="350.90" y="481.20" font-size="11.7" text-anchor="middle" font-weight="normal" font-family='"Liberation Sans", sans-serif'  stroke="#111" stroke-width="0.2">-</text>
<text x="396.60" y="481.20" font-size="11.7" text-anchor="middle" font-weight="normal" font-family='"Liberation Sans", sans-serif'  stroke="#111" stroke-width="0.2">fMLF</text>
<text x="441.00" y="481.20" font-size="11.7" text-anchor="middle" font-weight="normal" font-family='"Liberation Sans", sans-serif'  stroke="#111" stroke-width="0.2">LPS</text>
<text x="485.90" y="481.20" font-size="11.7" text-anchor="middle" font-weight="normal" font-family='"Liberation Sans", sans-serif'  stroke="#111" stroke-width="0.2">TNF<tspan font-family='"Liberation Serif", serif' font-size="1.12em">&#945;</tspan></text>
<rect x="335.60" y="490.20" width="6.00" height="9.80" fill="#a1002b"/>
<text x="346.00" y="498.80" font-size="11.2" text-anchor="start" font-weight="normal" font-family='"Liberation Sans", sans-serif'  textLength="46.0" lengthAdjust="spacingAndGlyphs" stroke="#111" stroke-width="0.2"><tspan font-family='"Liberation Serif", serif' font-size="1.12em">&#945;</tspan>CD3/28</text>
<rect x="335.60" y="507.70" width="6.00" height="9.80" fill="#2e4b7c"/>
<text x="346.00" y="516.30" font-size="11.2" text-anchor="start" font-weight="normal" font-family='"Liberation Sans", sans-serif'  textLength="146.6" lengthAdjust="spacingAndGlyphs" stroke="#111" stroke-width="0.2"><tspan font-family='"Liberation Serif", serif' font-size="1.12em">&#945;</tspan>CD3/28 + control neutrophils</text>
<rect x="335.60" y="525.20" width="6.00" height="9.80" fill="#6ca644"/>
<text x="346.00" y="533.80" font-size="11.2" text-anchor="start" font-weight="normal" font-family='"Liberation Sans", sans-serif'  textLength="139.6" lengthAdjust="spacingAndGlyphs" stroke="#111" stroke-width="0.2"><tspan font-family='"Liberation Serif", serif' font-size="1.12em">&#945;</tspan>CD3/28 + CGD neutrophils</text>
<text transform="translate(281.50,443.35) rotate(-90)" stroke="#111" stroke-width="0.35" font-size="14.5" font-family='"Liberation Sans", sans-serif' textLength="34.65" lengthAdjust="spacingAndGlyphs">Relative</text>
<text transform="translate(281.50,406.73) rotate(-90)" stroke="#111" stroke-width="0.35" font-size="14.5" font-family='"Liberation Sans", sans-serif' textLength="41.32" lengthAdjust="spacingAndGlyphs">precursor</text>
<text transform="translate(281.50,363.47) rotate(-90)" stroke="#111" stroke-width="0.35" font-size="14.5" font-family='"Liberation Sans", sans-serif' textLength="43.96" lengthAdjust="spacingAndGlyphs">frequency</text>
<text transform="translate(297.30,417.94) rotate(-90)" stroke="#111" stroke-width="0.35" font-size="14.5" font-family='"Liberation Sans", sans-serif' textLength="17.60" lengthAdjust="spacingAndGlyphs">CD4</text>
<text transform="translate(292.10,399.58) rotate(-90)" stroke="#111" stroke-width="0.35" font-size="7" font-family='"Liberation Sans", sans-serif' textLength="2.49" lengthAdjust="spacingAndGlyphs">+</text>
<text transform="translate(297.30,392.57) rotate(-90)" stroke="#111" stroke-width="0.35" font-size="14.5" font-family='"Liberation Sans", sans-serif' textLength="4.81" lengthAdjust="spacingAndGlyphs">T</text>
<text transform="translate(297.30,384.24) rotate(-90)" stroke="#111" stroke-width="0.35" font-size="14.5" font-family='"Liberation Sans", sans-serif' textLength="19.19" lengthAdjust="spacingAndGlyphs">cells</text>
<text transform="translate(297.30,360.88) rotate(-90)" stroke="#111" stroke-width="0.35" font-size="14.5" font-family='"Liberation Sans", sans-serif' textLength="15.82" lengthAdjust="spacingAndGlyphs">(%)</text>
</svg>
</body></html>
